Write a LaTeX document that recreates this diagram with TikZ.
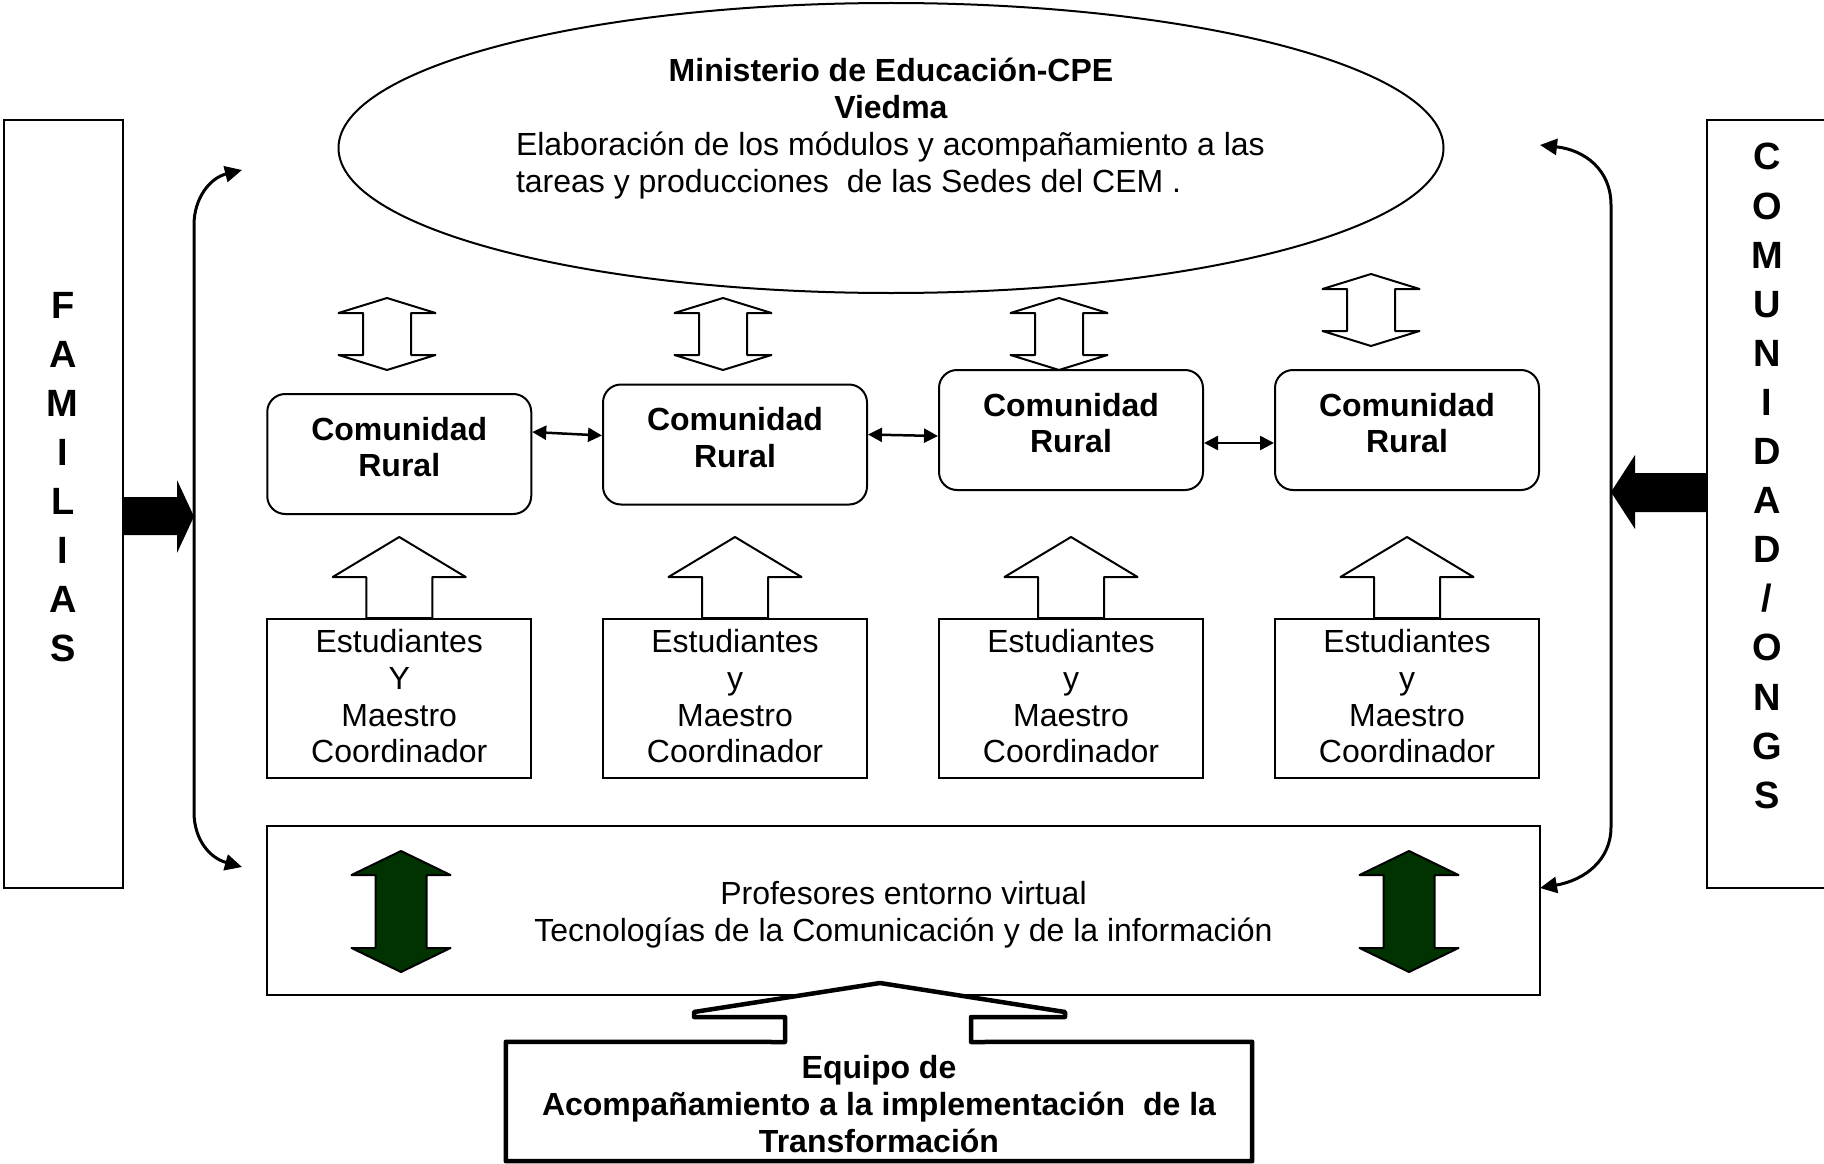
\documentclass[tikz,border=0pt]{standalone}
\usepackage{fontspec}
\setmainfont{Liberation Sans}
\usetikzlibrary{arrows.meta,shapes.geometric}
\definecolor{dgreen}{RGB}{0,51,0}
\begin{document}
\begin{tikzpicture}[x=1pt,y=-1pt,
  line join=miter,
  sidebox/.style={draw,line width=2pt,inner sep=0pt},
  cbox/.style={draw,line width=2pt,rounded corners=18pt,minimum width=264pt,minimum height=120pt,inner sep=0pt},
  ebox/.style={draw,line width=2pt,minimum width=264pt,minimum height=159pt,inner sep=0pt,align=center,font=\fontsize{32}{36.8}\selectfont},
  txt/.style={align=center,inner sep=0pt,font=\fontsize{32}{36.8}\selectfont},
  btxt/.style={align=center,inner sep=0pt,font=\fontsize{32}{36.8}\selectfont\bfseries},
  vtxt/.style={align=center,inner sep=0pt,font=\fontsize{38}{49.1}\selectfont\bfseries},
  hollow/.style={draw,line width=2pt,fill=white,line join=round},
  greenfill/.style={draw,line width=2pt,fill=dgreen,line join=round},
  fatarrow/.style={fill=black},
  curv/.style={line width=3pt,{Triangle[length=17pt,width=16pt]}-{Triangle[length=17pt,width=16pt]}},
  link/.style={line width=2.5pt,{Triangle[length=14pt,width=14pt]}-{Triangle[length=14pt,width=14pt]}},
  bigline/.style={line width=4.5pt,line join=round},
  pics/dblarrow/.style n args={5}{code={
    \path[#5] (0,-#1) -- (#3,-#1+#2) -- (#4,-#1+#2) -- (#4,#1-#2) -- (#3,#1-#2) -- (0,#1)
      -- (-#3,#1-#2) -- (-#4,#1-#2) -- (-#4,-#1+#2) -- (-#3,-#1+#2) -- cycle;}},
  pics/uparrow/.style n args={5}{code={
    \path[#5] (0,-#1) -- (#2,0) -- (#3,0) -- (#3,#4) -- (-#3,#4) -- (-#3,0) -- (-#2,0) -- cycle;}},
]
\useasboundingbox (0,0) rectangle (1824,1164);
\fill[white] (0,0) rectangle (1824,1164);

% side boxes
\node[sidebox,minimum width=119.5pt,minimum height=768pt] (fam) at (63.25,504) {};
\node[vtxt] (famt) at (62.8,477) {F\\A\\M\\I\\L\\I\\A\\S};
\node[sidebox,minimum width=120pt,minimum height=768pt] (com) at (1767,504) {};
\node[vtxt] (comt) at (1767,476) {C\\O\\M\\U\\N\\I\\D\\A\\D\\/\\O\\N\\G\\S};

% ministry ellipse
\node[draw,ellipse,line width=2pt,minimum width=1105pt,minimum height=290pt,inner sep=0pt] (min) at (891,148) {};
\node[txt] (mint) at (891,128.5) {\textbf{Ministerio de Educación-CPE}\\\textbf{Viedma}\\\makebox[750pt][l]{Elaboración de los módulos y acompañamiento a las}\\\makebox[750pt][l]{tareas y producciones\ \ de las Sedes del CEM .}};

% comunidad boxes
\node[cbox] (c1) at (399.25,454) {};
\node[cbox] (c2) at (735,444.5) {};
\node[cbox] (c3) at (1071,430) {};
\node[cbox] (c4) at (1407,430) {};
\node[btxt] (c1t) at ([yshift=7pt]c1.center) {Comunidad\\Rural};
\node[btxt] (c2t) at ([yshift=7pt]c2.center) {Comunidad\\Rural};
\node[btxt] (c3t) at ([yshift=7pt]c3.center) {Comunidad\\Rural};
\node[btxt] (c4t) at ([yshift=7pt]c4.center) {Comunidad\\Rural};

\draw[link] ([yshift=22pt]c1.east) -- ([yshift=9pt]c2.west);
\draw[link] ([yshift=10pt]c2.east) -- ([yshift=-6pt]c3.west);
\draw[link] ([yshift=-13pt]c3.east) -- ([yshift=-13pt]c4.west);

% up-down hollow arrows
\pic at (387,334) {dblarrow={36}{15}{48.5}{24}{hollow}};
\pic at (723,334) {dblarrow={36}{15}{48.5}{24}{hollow}};
\pic at (1059,334) {dblarrow={36}{15}{48.5}{24}{hollow}};
\pic at (1371,310) {dblarrow={36}{15}{48.5}{24}{hollow}};

% estudiantes boxes
\node[ebox] (e1) at (399.25,698.5) {Estudiantes\\Y\\ Maestro\\Coordinador\rule[-5pt]{0pt}{5pt}};
\node[ebox] (e2) at (735,698.5) {Estudiantes\\y\\Maestro\\Coordinador\rule[-5pt]{0pt}{5pt}};
\node[ebox] (e3) at (1071,698.5) {Estudiantes\\y\\Maestro\\Coordinador\rule[-5pt]{0pt}{5pt}};
\node[ebox] (e4) at (1407,698.5) {Estudiantes\\y\\Maestro\\Coordinador\rule[-5pt]{0pt}{5pt}};

\pic at ([yshift=41pt]e1.north) {uparrow={40}{66.5}{33}{41}{hollow}};
\pic at ([yshift=41pt]e2.north) {uparrow={40}{66.5}{33}{41}{hollow}};
\pic at ([yshift=41pt]e3.north) {uparrow={40}{66.5}{33}{41}{hollow}};
\pic at ([yshift=41pt]e4.north) {uparrow={40}{66.5}{33}{41}{hollow}};

% profesores box
\node[draw,line width=2pt,minimum width=1273pt,minimum height=169pt,txt] (prof) at (903.5,910.5) {\rule{0pt}{31pt}Profesores entorno virtual\\Tecnologías de la Comunicación y de la información};
\pic at (401,911.5) {dblarrow={60.5}{24}{49.5}{25.5}{greenfill}};
\pic at (1409,911.5) {dblarrow={60.5}{24}{49.5}{25.5}{greenfill}};

% equipo callout
\path[fill=white] (880,983) -- (1065,1012) -- (1065,1017) -- (694,1017) -- (694,1012) -- cycle;
\node[btxt,minimum width=746pt,minimum height=119pt] (eq) at (879,1101.5) {\rule{0pt}{28.5pt}Equipo de\\Acompañamiento a la implementación\ \ de la\\Transformación};
\draw[bigline] (eq.north west) -- (eq.south west) -- (eq.south east) -- (eq.north east) -- (971,1042) -- (971,1017) -- (1065,1017) -- (1065,1012) -- (880,983) -- (694,1012) -- (694,1017) -- (785,1017) -- (785,1042) -- cycle;

% fat black arrows
\fill[fatarrow] (123,497) -- (177,497) -- (177,480) -- (194,516.5) -- (177,553) -- (177,535) -- (123,535) -- cycle;
\fill[fatarrow] (1707,473) -- (1635,473) -- (1635,455) -- (1611,492) -- (1635,529) -- (1635,512) -- (1707,512) -- cycle;

% side brackets
\coordinate (lt) at (242,170);
\coordinate (lb) at (242,867);
\coordinate (rt) at (1540,145);
\coordinate (rb) at (1540,888);
\draw[curv] (lt) .. controls (210,178) and (194,198) .. (194,225) -- (194,812) .. controls (194,840) and (210,858) .. (lb);
\draw[curv] (rt) .. controls (1585,150) and (1611,170) .. (1611,205) -- (1611,827) .. controls (1611,860) and (1585,880) .. (rb);
\end{tikzpicture}
\end{document}
